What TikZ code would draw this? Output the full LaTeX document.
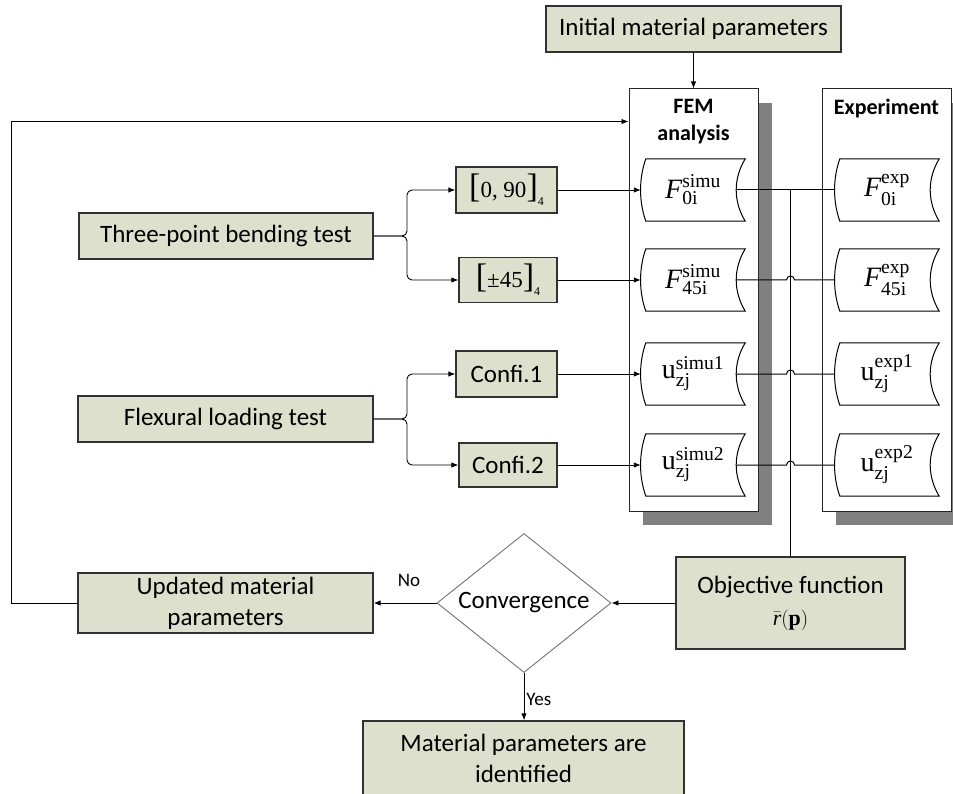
\documentclass[tikz,border=0pt]{standalone}
\usepackage{fontspec}
\usepackage{amsmath}
\setmainfont{Carlito}
\newfontfamily\tms{Liberation Serif}
\usetikzlibrary{shapes.geometric,arrows.meta,calc}
\definecolor{boxfill}{RGB}{221,224,204}
\definecolor{boxline}{RGB}{50,50,50}
\definecolor{shadowgray}{RGB}{128,128,128}
\newcommand\tapeshape[1]{%
  \draw[line width=1pt] ([xshift=5pt]#1.north west) -- (#1.north east)
    .. controls +(-12,20) and +(-12,-20) .. (#1.south east)
    -- ([xshift=5pt]#1.south west)
    .. controls +(-7,-20) and +(-7,20) .. ([xshift=5pt]#1.north west) -- cycle;}
\newcommand\bigbr[1]{{\fontsize{34}{34}\selectfont #1}}
\begin{document}
\begin{tikzpicture}[x=1pt,y=-1pt,
  gbox/.style={draw=boxline, line width=1.3pt, fill=boxfill, inner sep=0pt, align=center, font=\fontsize{25}{31}\selectfont},
  frame/.style={draw=black!85, line width=1pt, fill=white, inner sep=0pt},
  tapebox/.style={inner sep=0pt, minimum width=104pt, minimum height=62pt, font=\tms\fontsize{28}{30}\selectfont},
  ttl/.style={font=\bfseries\fontsize{22}{27}\selectfont, align=center, inner sep=0pt},
  arr/.style={-{Latex[length=7pt,width=5.5pt]}, line width=0.9pt},
  ln/.style={line width=1pt},
  lbl/.style={font=\fontsize{19}{22}\selectfont, inner sep=2pt},
]
\useasboundingbox (0,0) rectangle (953,794);
\clip (0,0) rectangle (953,794);

% top box
\node[gbox, minimum width=295pt, minimum height=46pt] (init) at (693.5,29) {Initial material parameters};

% shadows and frames
\fill[shadowgray] (643,103) rectangle (772,525);
\fill[shadowgray] (836,103) rectangle (965,525);
\node[frame, minimum width=129pt, minimum height=422pt] (fem) at (693.5,300) {};
\node[frame, minimum width=129pt, minimum height=422pt] (exp) at (886.5,300) {};
\node[ttl] (femt) at (693.5,122) {FEM\\analysis};
\node[ttl] (expt) at (886.5,109) {Experiment};

% tapes FEM
\node[tapebox] (f1) at (693,190) {$\textit{F}^{\text{simu}}_{\text{0i}}$};
\node[tapebox] (f2) at (693,280) {$\textit{F}^{\text{simu}}_{\text{45i}}$};
\node[tapebox] (f3) at (693,374) {$\text{u}^{\text{simu1}}_{\text{zj}}$};
\node[tapebox] (f4) at (693,465) {$\text{u}^{\text{simu2}}_{\text{zj}}$};
\tapeshape{f1}\tapeshape{f2}\tapeshape{f3}\tapeshape{f4}
% tapes Experiment
\node[tapebox] (e1) at (887,190) {$\textit{F}^{\text{exp}}_{\text{0i}}$};
\node[tapebox] (e2) at (887,280) {$\textit{F}^{\text{exp}}_{\text{45i}}$};
\node[tapebox] (e3) at (887,374) {$\text{u}^{\text{exp1}}_{\text{zj}}$};
\node[tapebox] (e4) at (887,465) {$\text{u}^{\text{exp2}}_{\text{zj}}$};
\tapeshape{e1}\tapeshape{e2}\tapeshape{e3}\tapeshape{e4}

% left boxes
\node[gbox, minimum width=294pt, minimum height=46pt] (three) at (226,236) {Three-point bending test};
\node[gbox, minimum width=295pt, minimum height=46pt] (flex) at (225.5,419) {Flexural loading test};
\node[gbox, minimum width=101pt, minimum height=46pt, font=\tms\fontsize{23}{25}\selectfont] (b090) at (506.5,190)
  {\bigbr{[}0, 90\bigbr{]}\raisebox{-8pt}{\fontsize{12}{12}\selectfont 4}};
\node[gbox, minimum width=98pt, minimum height=45pt, font=\tms\fontsize{23}{25}\selectfont] (b45) at (508,280)
  {\bigbr{[}±45\bigbr{]}\raisebox{-8pt}{\fontsize{12}{12}\selectfont 4}};
\node[gbox, minimum width=101pt, minimum height=46pt] (c1) at (506.5,374) {Confi.1};
\node[gbox, minimum width=98pt, minimum height=44pt] (c2) at (508,465) {Confi.2};

% brace connectors
\draw[arr, rounded corners=5pt] (three.east) -- (407,236) |- (b090.west);
\draw[arr, rounded corners=5pt] (three.east) -- (407,236) |- (b45.west);
\draw[arr, rounded corners=5pt] (flex.east) -- (407,419) |- (c1.west);
\draw[arr, rounded corners=5pt] (flex.east) -- (407,419) |- (c2.west);

% into FEM
\draw[arr] (b090.east) -- (f1.west);
\draw[arr] (b45.east) -- (f2.west);
\draw[arr] (c1.east) -- (f3.west);
\draw[arr] (c2.east) -- (f4.west);
\draw[arr] (init.south) -- (fem.north);

% bottom nodes
\node[gbox, minimum width=229pt, minimum height=92pt] (obj) at (790.5,603)
  {Objective function\\[1pt]{\tms\fontsize{22}{24}\selectfont$\bar{\textit{r}}(\textbf{p})$}};
\node[diamond, draw=black!55, line width=0.9pt, fill=white, minimum width=174pt, minimum height=139pt,
  inner sep=0pt, aspect=1.25, font=\fontsize{25}{31}\selectfont] (conv) at (524,603) {Convergence};
\node[gbox, minimum width=295pt, minimum height=60pt] (upd) at (225.5,603) {Updated material\\parameters};
\node[gbox, minimum width=321pt, minimum height=75pt] (final) at (523.5,758.5) {Material parameters are\\identified};

% comparison lines
\draw[ln] ([xshift=-9pt]f1.east) -- (e1.west);
\draw[ln] (obj.north) -- (obj.north |- f1.east);
\draw[ln] ([xshift=-9pt]f2.east) -- ($(obj.north |- f2.east)+(-4pt,0pt)$) arc[start angle=180, end angle=0, radius=4pt] -- (e2.west);
\draw[ln] ([xshift=-9pt]f3.east) -- ($(obj.north |- f3.east)+(-4pt,0pt)$) arc[start angle=180, end angle=0, radius=4pt] -- (e3.west);
\draw[ln] ([xshift=-9pt]f4.east) -- ($(obj.north |- f4.east)+(-4pt,0pt)$) arc[start angle=180, end angle=0, radius=4pt] -- (e4.west);

% loop
\draw[arr] (obj.west) -- (conv.east);
\draw[arr] (conv.west) -- node[lbl, above=14pt, xshift=4pt] (no) {No} (upd.east);
\draw[arr] (conv.south) -- node[lbl, right, pos=0.55] (yes) {Yes} (conv.south |- final.north);
\draw[arr] (upd.west) -- (11,603) |- ([yshift=-33pt]fem.north west);
\end{tikzpicture}
\end{document}
